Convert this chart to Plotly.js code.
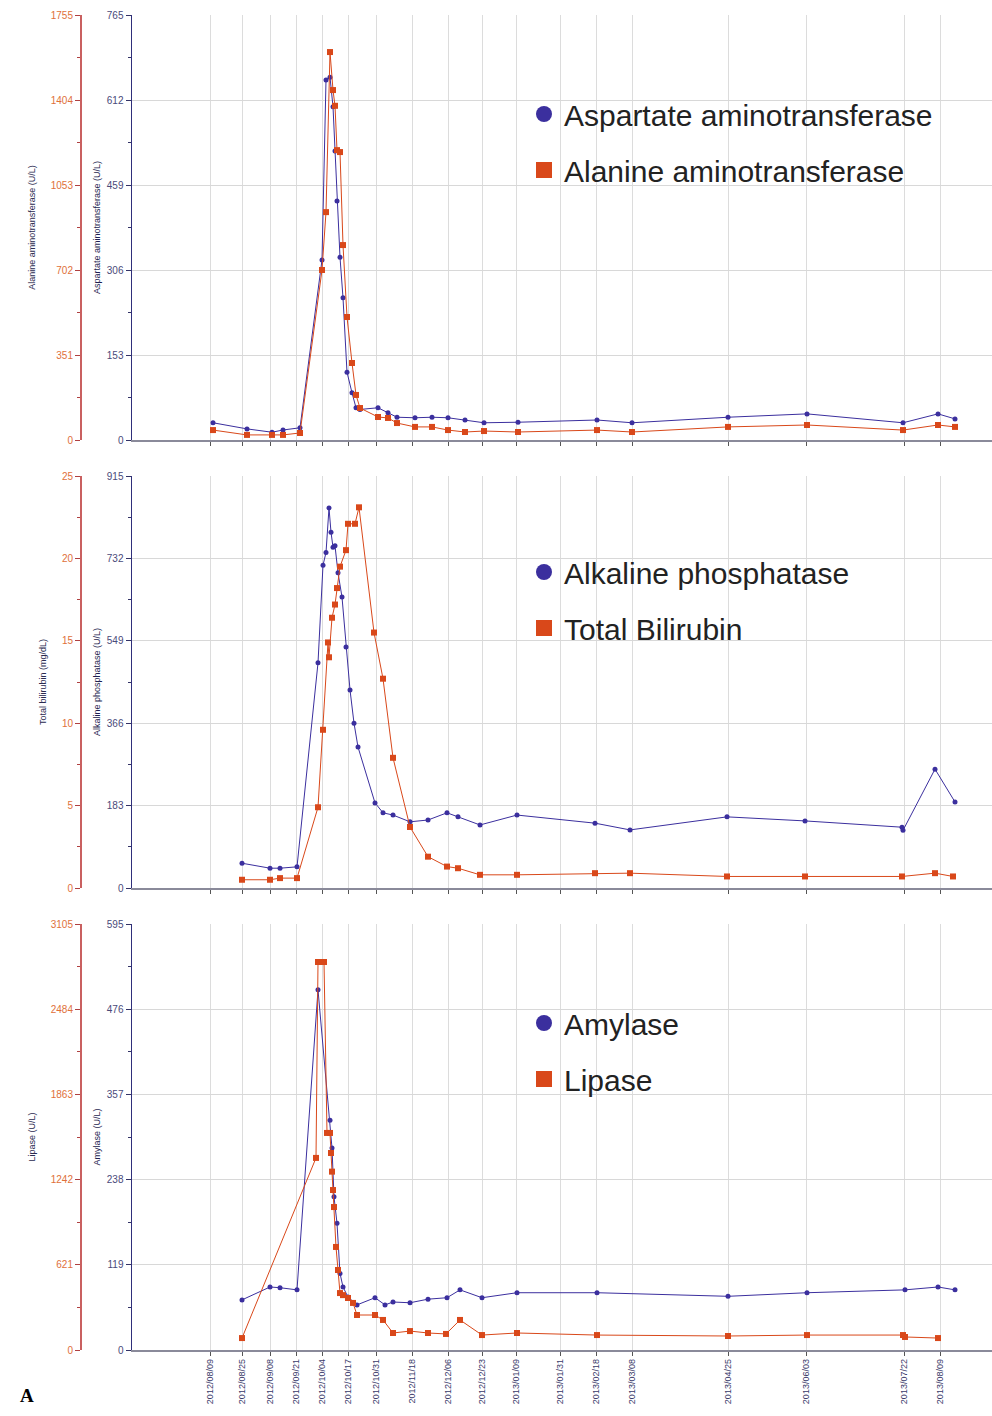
<!DOCTYPE html>
<html>
<head>
<meta charset="utf-8">
<script src="https://cdn.plot.ly/plotly-3.0.1.min.js"></script>
<style>html,body{margin:0;padding:0;background:#fff;}#chart{width:992px;height:1416px;}</style>
</head>
<body>
<div id="chart"></div>
<script>
// ---- x tick positions (days from 2012-07-01) and labels ----
const tickDays = [39, 55, 69, 82, 95, 108, 122, 140, 158, 175, 192, 214, 232, 250, 298, 337, 386, 404];
const tickLabels = ['2012/08/09','2012/08/25','2012/09/08','2012/09/21','2012/10/04','2012/10/17','2012/10/31',
  '2012/11/18','2012/12/06','2012/12/23','2013/01/09','2013/01/31','2013/02/18','2013/03/08','2013/04/25',
  '2013/06/03','2013/07/22','2013/08/09'];

// ---- Panel 1: AST / ALT ----
const liverDays = [40.5, 57.5, 70, 75.5, 84, 95, 97, 99, 100.5, 101.5, 102.5, 104, 105.5, 107.5, 110, 112, 114,
  123, 128, 132.5, 141.5, 150, 158, 166.5, 176, 193, 232.5, 250, 298, 337.5, 385.5, 403, 411.5];
const astValues = [31, 20, 14, 18, 22, 324, 648, 653, 600, 520, 430, 329, 256, 122, 85, 58, 55,
  58, 49, 41, 40, 41, 40, 36, 31, 32, 36, 31, 41, 47, 31, 47, 38];
const altValues = [41, 21, 21, 21, 29, 702, 941, 1602, 1445, 1380, 1197, 1189, 805, 508, 318, 186, 132,
  95, 91, 70, 54, 54, 41, 33, 37, 33, 41, 33, 54, 62, 41, 62, 54];

// ---- Panel 2: ALP / Total bilirubin ----
const alpDays = [55, 69, 74, 82.5, 93, 95.5, 97, 98.5, 99.5, 100.5, 101.5, 103, 105, 107, 109, 111, 113,
  121.5, 125.5, 130.5, 139, 148, 157.5, 163, 174, 192.5, 231.5, 249, 297.5, 336.5, 385, 385.5, 401.5, 411.5];
const alpValues = [55, 44, 44, 47, 500, 717, 745, 844, 790, 757, 760, 700, 646, 535, 440, 366, 313,
  189, 167, 162, 147, 151, 167, 158, 140, 162, 144, 129, 158, 149, 135, 128, 264, 191];
const tbDays = [55, 69, 74, 82.5, 93, 95.5, 98, 98.5, 100, 101.5, 102.5, 104, 107, 108, 111.5, 113.5,
  121, 125.5, 130.5, 139, 148, 157.5, 163, 174, 192.5, 231.5, 249, 297.5, 336.5, 385, 401.5, 410.5];
const tbValues = [0.5, 0.5, 0.6, 0.6, 4.9, 9.6, 14.9, 14.0, 16.4, 17.2, 18.2, 19.5, 20.5, 22.1, 22.1, 23.1,
  15.5, 12.7, 7.9, 3.7, 1.9, 1.3, 1.2, 0.8, 0.8, 0.9, 0.9, 0.7, 0.7, 0.7, 0.9, 0.7];

// ---- Panel 3: Amylase / Lipase ----
const amyDays = [55, 69, 74, 82.5, 93, 99, 100, 101, 102.5, 104, 105.5, 108, 112.5, 121.5, 126.5, 130.5,
  139, 148, 157.5, 164, 175, 192.5, 232.5, 298, 337.5, 386.5, 403, 411.5];
const amyValues = [70, 88, 87, 84, 503, 321, 282, 214, 177, 107, 88, 74, 63, 73, 63, 67,
  66, 71, 73, 84, 73, 80, 80, 75, 80, 84, 88, 84];
const lipDays = [55, 92, 93, 96, 97.5, 99, 99.5, 100, 100.5, 101, 102, 103, 104, 105.5, 108, 110.5,
  112.5, 121.5, 125.5, 130.5, 139, 148, 157, 164, 175, 192.5, 232.5, 298, 337.5, 385.5, 386.5, 403];
const lipValues = [87, 1400, 2828, 2828, 1582, 1582, 1436, 1300, 1166, 1042, 751, 583, 415, 400, 379, 343,
  255, 255, 219, 124, 138, 124, 117, 219, 109, 124, 109, 102, 109, 109, 95, 87];

const seriesNames = ['Aspartate aminotransferase', 'Alanine aminotransferase', 'Alkaline phosphatase',
  'Total Bilirubin', 'Amylase', 'Lipase'];

const BLUE = '#3b2f9e';
const RED = '#d9481a';
const FONT = 'Liberation Sans, Arial, sans-serif';

function line(x, y, xa, ya, color, symbol, size) {
  return {x: x, y: y, xaxis: xa, yaxis: ya, type: 'scatter', mode: 'lines+markers', showlegend: false,
    line: {color: color, width: 1}, marker: {color: color, symbol: symbol, size: size}, hoverinfo: 'x+y'};
}
function legendItem(name, color, symbol, xa, ya, leg, grp) {
  return {x: [null], y: [null], xaxis: xa, yaxis: ya, type: 'scatter', mode: 'markers', name: name,
    legend: leg, legendgroup: grp, marker: {color: color, symbol: symbol, size: 22}};
}

const data = [
  line(liverDays, astValues, 'x', 'y', BLUE, 'circle', 5),
  line(liverDays, altValues, 'x', 'y2', RED, 'square', 6),
  line(alpDays, alpValues, 'x2', 'y3', BLUE, 'circle', 5),
  line(tbDays, tbValues, 'x2', 'y4', RED, 'square', 6),
  line(amyDays, amyValues, 'x3', 'y5', BLUE, 'circle', 5),
  line(lipDays, lipValues, 'x3', 'y6', RED, 'square', 6),
  legendItem(seriesNames[0], BLUE, 'circle', 'x', 'y', 'legend', 'a'),
  legendItem(seriesNames[1], RED, 'square', 'x', 'y2', 'legend', 'b'),
  legendItem(seriesNames[2], BLUE, 'circle', 'x2', 'y3', 'legend2', 'c'),
  legendItem(seriesNames[3], RED, 'square', 'x2', 'y4', 'legend2', 'd'),
  legendItem(seriesNames[4], BLUE, 'circle', 'x3', 'y5', 'legend3', 'e'),
  legendItem(seriesNames[5], RED, 'square', 'x3', 'y6', 'legend3', 'f')
];

const H = 1416;
function dom(top, bottom) { return [1 - bottom / H, 1 - top / H]; }
const XDOM = [132 / 992, 1];
const RED_POS = 80 / 992;

function xaxis(anchor, labels) {
  return {domain: XDOM, anchor: anchor, range: [0, 430], tickmode: 'array', tickvals: tickDays,
    ticktext: tickLabels, showticklabels: labels, tickangle: -90, ticks: 'outside', ticklen: 4,
    tickcolor: '#555', showline: true, linecolor: '#8a8a9a', linewidth: 1.5, showgrid: true,
    gridcolor: '#dcdcdc', gridwidth: 1, zeroline: false,
    tickfont: {family: FONT, size: 9, color: '#3a3a6a'}};
}
function blueY(dm, anchor, top, title) {
  return {domain: dm, anchor: anchor, range: [0, top], tickmode: 'linear', tick0: 0, dtick: top / 5,
    ticks: 'outside', ticklen: 5, tickcolor: '#333366', showline: true, linecolor: '#2f2f7a', linewidth: 1.5,
    showgrid: true, gridcolor: '#d8d8d8', zeroline: false,
    minor: {dtick: top / 10, ticks: 'outside', ticklen: 3, tickcolor: '#333366', showgrid: false},
    tickfont: {family: FONT, size: 10, color: '#4a4a7a'},
    title: {text: title, font: {family: FONT, size: 9, color: '#1e1e50'}, standoff: 4}};
}
function redY(over, top, dt, title) {
  return {overlaying: over, anchor: 'free', position: RED_POS, side: 'left', range: [0, top],
    tickmode: 'linear', tick0: 0, dtick: dt, ticks: 'outside', ticklen: 5, tickcolor: '#b04040',
    showline: true, linecolor: '#c96060', linewidth: 1.5, showgrid: false, zeroline: false,
    minor: {dtick: dt / 2, ticks: 'outside', ticklen: 3, tickcolor: '#b04040', showgrid: false},
    tickfont: {family: FONT, size: 10, color: '#e0703a'},
    title: {text: title, font: {family: FONT, size: 9, color: '#2a2a50'}, standoff: 12}};
}
function legend(topPx) {
  return {x: 524 / 992, y: 1 - topPx / H, xanchor: 'left', yanchor: 'top', bgcolor: 'rgba(255,255,255,0)',
    font: {family: FONT, size: 30, color: '#222'}, tracegroupgap: 14, traceorder: 'grouped',
    itemsizing: 'trace'};
}

const layout = {
  width: 992, height: 1416, margin: {l: 0, r: 0, t: 0, b: 0},
  paper_bgcolor: '#fff', plot_bgcolor: '#fff',
  xaxis: xaxis('y', false),
  xaxis2: xaxis('y3', false),
  xaxis3: xaxis('y5', true),
  yaxis: blueY(dom(15, 440), 'x', 765, 'Aspartate aminotransferase (U/L)'),
  yaxis2: redY('y', 1755, 351, 'Alanine aminotransferase (U/L)'),
  yaxis3: blueY(dom(476, 888), 'x2', 915, 'Alkaline phosphatase (U/L)'),
  yaxis4: redY('y3', 25, 5, 'Total bilirubin (mg/dL)'),
  yaxis5: blueY(dom(924, 1350), 'x3', 595, 'Amylase (U/L)'),
  yaxis6: redY('y5', 3105, 621, 'Lipase (U/L)'),
  legend: legend(88),
  legend2: legend(546),
  legend3: legend(997),
  annotations: [{text: '<b>A</b>', xref: 'paper', yref: 'paper', x: 18 / 992, y: 1 - 1395 / H,
    xanchor: 'left', yanchor: 'middle', showarrow: false,
    font: {family: 'Liberation Serif, serif', size: 19, color: '#000'}}]
};

Plotly.newPlot('chart', data, layout, {staticPlot: true});
</script>
</body>
</html>
